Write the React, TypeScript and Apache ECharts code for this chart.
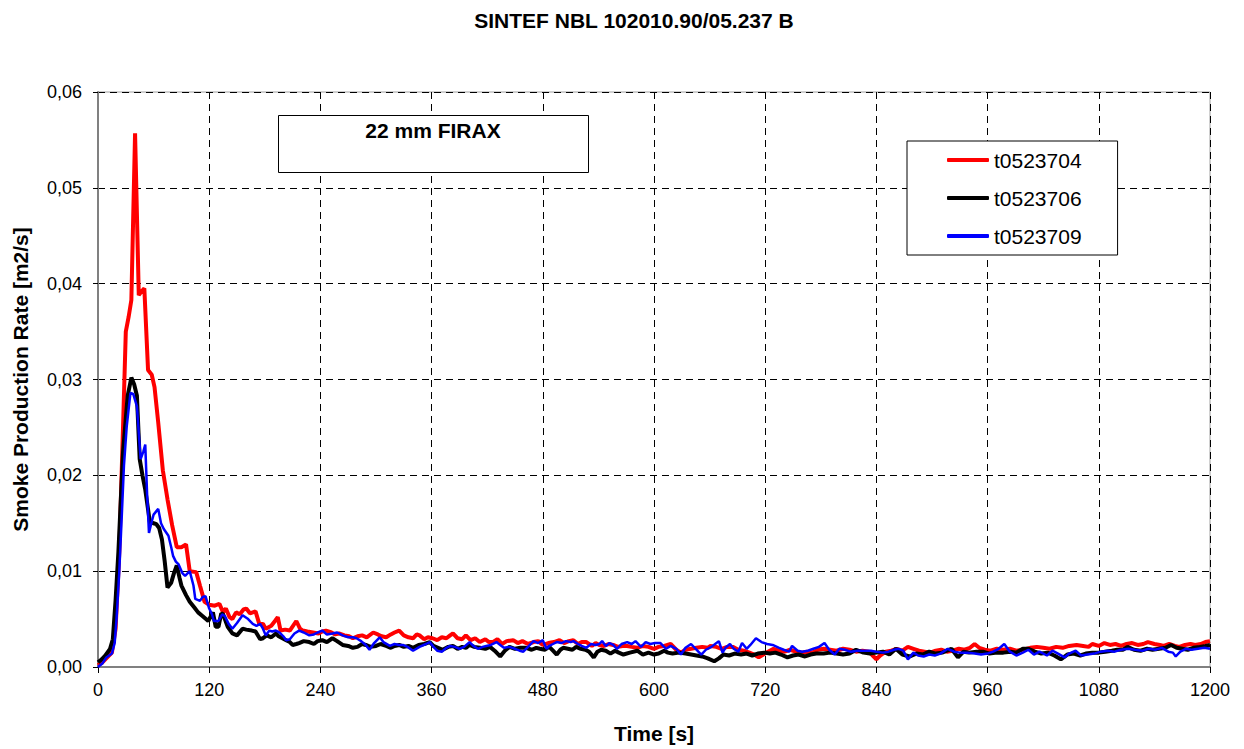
import React, { useEffect, useRef } from "react";
import * as echarts from "echarts";

const chartTitle = "SINTEF NBL 102010.90/05.237 B";
const boxLabel = "22 mm FIRAX";
const xAxisName = "Time [s]";
const yAxisName = "Smoke Production Rate [m2/s]";
const seriesNames = ["t0523704", "t0523706", "t0523709"];

const redTime = [0,5,10,15,19,23,27,30,33,36,40,44,47,50,54,58,61,65,70,75,80,85,90,95,99,106,110,115,120,126,131,135,138,142,145,149,153,157,160,164,167,170,174,178,181,187,191,194,197,202,207,214,218,221,226,232,238,242,246,252,256,260,266,271,275,280,285,290,297,302,306,311,316,320,325,330,335,340,344,347,352,356,361,366,371,376,380,383,388,393,397,402,407,412,418,422,426,431,436,441,448,453,458,464,470,475,480,486,492,498,503,508,513,518,522,527,533,537,541,546,551,556,561,566,571,576,582,588,594,600,605,611,618,624,629,634,640,646,652,658,661,667,673,679,685,691,697,703,708,713,718,723,729,735,741,747,753,759,765,771,777,783,790,797,804,811,818,825,832,836,840,844,850,856,862,868,874,880,886,892,898,904,910,916,922,929,935,941,946,951,957,963,970,977,984,991,998,1006,1013,1020,1027,1034,1041,1048,1056,1063,1069,1073,1080,1086,1092,1098,1104,1110,1116,1122,1128,1133,1140,1146,1150,1156,1162,1167,1173,1179,1184,1190,1195,1200];
const redValue = [0.0002,0.0005,0.001,0.0015,0.004,0.012,0.025,0.035,0.0365,0.0383,0.0557,0.0388,0.0392,0.0395,0.031,0.0305,0.0292,0.0255,0.0205,0.0175,0.0148,0.0125,0.0125,0.0128,0.01,0.0099,0.0085,0.0068,0.0065,0.0064,0.0066,0.0057,0.0061,0.0052,0.005,0.0057,0.0055,0.006,0.0061,0.0056,0.0057,0.0058,0.0045,0.0045,0.004,0.0043,0.0048,0.0052,0.0038,0.0039,0.0038,0.0048,0.004,0.0038,0.0037,0.0036,0.0035,0.0037,0.0038,0.0036,0.0034,0.0035,0.0033,0.0032,0.003,0.0032,0.0033,0.0031,0.0036,0.0034,0.0032,0.0031,0.0034,0.0036,0.0038,0.0033,0.0031,0.003,0.0034,0.0033,0.0029,0.0031,0.003,0.0028,0.0031,0.003,0.0033,0.0035,0.003,0.0029,0.0033,0.0028,0.003,0.0026,0.0029,0.0026,0.0026,0.0029,0.0024,0.0027,0.0028,0.0025,0.0027,0.0024,0.0026,0.0027,0.0023,0.0025,0.0026,0.0028,0.0025,0.0027,0.0028,0.0024,0.0026,0.0026,0.0022,0.0025,0.0023,0.0022,0.0024,0.0023,0.0021,0.0022,0.0022,0.0021,0.002,0.0022,0.0021,0.0019,0.0021,0.0022,0.0024,0.0018,0.0015,0.0018,0.0019,0.002,0.0021,0.002,0.0022,0.0021,0.0019,0.0021,0.0021,0.0018,0.0017,0.0015,0.0013,0.001,0.0013,0.0016,0.0019,0.0017,0.0016,0.0018,0.0016,0.0015,0.0016,0.0015,0.0018,0.0019,0.0018,0.0017,0.0019,0.0018,0.0016,0.0017,0.0016,0.0012,0.0008,0.0012,0.0016,0.0017,0.0019,0.0017,0.0021,0.0019,0.0017,0.0016,0.0015,0.0017,0.0018,0.0016,0.0017,0.0019,0.0018,0.002,0.0024,0.002,0.0018,0.0017,0.0019,0.0018,0.0019,0.0017,0.0018,0.002,0.0021,0.002,0.0019,0.0021,0.002,0.0022,0.0023,0.0022,0.0021,0.0024,0.0022,0.0025,0.0023,0.0024,0.0022,0.0024,0.0025,0.0023,0.0024,0.0026,0.0024,0.0023,0.0022,0.0024,0.0022,0.0021,0.0023,0.0024,0.0023,0.0024,0.0026,0.0027];

const blackTime = [0,4,8,13,16,19,22,27,32,36,39,42,45,48,51,56,60,63,66,69,72,75,79,82,85,88,90,95,99,104,108,113,119,124,127,130,133,135,140,145,150,156,160,166,170,175,178,182,187,192,195,199,203,207,210,214,217,222,228,233,237,242,247,253,258,264,270,275,280,285,289,294,300,305,311,316,320,325,330,335,340,346,352,358,362,367,372,378,383,388,393,397,401,406,412,418,423,428,434,439,444,450,456,462,468,473,477,482,487,491,495,499,502,507,512,516,521,526,530,535,539,543,548,553,558,562,567,574,582,588,594,600,605,611,615,620,627,634,640,646,652,658,665,670,675,681,687,694,700,706,712,719,725,731,737,744,750,756,763,769,775,783,790,797,804,811,818,826,833,840,847,854,861,868,876,883,890,897,904,911,916,921,928,934,940,948,955,962,970,977,985,991,998,1004,1011,1018,1025,1032,1039,1046,1053,1060,1066,1073,1080,1087,1094,1100,1106,1111,1118,1125,1132,1138,1145,1152,1158,1164,1170,1176,1182,1189,1195,1200];
const blackValue = [0.0005,0.0008,0.0012,0.0019,0.0029,0.007,0.012,0.0224,0.0283,0.0302,0.0295,0.0283,0.0217,0.02,0.0185,0.0151,0.015,0.0149,0.0145,0.0133,0.011,0.0083,0.0088,0.0098,0.0106,0.0093,0.0085,0.0075,0.0068,0.0062,0.0057,0.0053,0.0048,0.0057,0.0042,0.0042,0.0056,0.0055,0.0042,0.0035,0.0033,0.004,0.0039,0.0038,0.0037,0.0029,0.003,0.0033,0.0031,0.0035,0.0032,0.003,0.0028,0.0026,0.0023,0.0024,0.0025,0.0027,0.0026,0.0024,0.0027,0.0028,0.0026,0.003,0.0027,0.0023,0.0022,0.002,0.0021,0.0024,0.0023,0.0021,0.0022,0.0024,0.0022,0.002,0.0022,0.0023,0.0021,0.0022,0.002,0.0023,0.0024,0.0026,0.0022,0.002,0.0018,0.0021,0.0022,0.0019,0.0021,0.002,0.0023,0.0021,0.002,0.0019,0.0021,0.0017,0.0011,0.0017,0.0021,0.0019,0.002,0.002,0.0018,0.002,0.0019,0.0018,0.0021,0.0017,0.0013,0.0018,0.002,0.0019,0.0018,0.0021,0.0019,0.0018,0.0016,0.001,0.0016,0.0018,0.0017,0.0014,0.0017,0.0015,0.0013,0.0015,0.0017,0.0013,0.0015,0.0013,0.0014,0.0017,0.0015,0.0014,0.0015,0.0014,0.0013,0.0012,0.0011,0.0009,0.0006,0.0009,0.0013,0.0012,0.0014,0.0013,0.0014,0.0012,0.0014,0.0015,0.0014,0.0015,0.0013,0.001,0.0012,0.0013,0.0011,0.0013,0.0014,0.0014,0.0015,0.0014,0.0013,0.0014,0.0018,0.0015,0.0014,0.0015,0.0016,0.0013,0.0019,0.0013,0.0011,0.0014,0.0013,0.0016,0.0014,0.0015,0.0017,0.0019,0.001,0.0016,0.0015,0.0016,0.0016,0.0014,0.0015,0.0015,0.0016,0.0015,0.0019,0.0019,0.0016,0.0014,0.0015,0.0012,0.0008,0.0013,0.0014,0.0012,0.0014,0.0015,0.0015,0.0016,0.0017,0.0018,0.0018,0.0021,0.0018,0.0017,0.0019,0.0018,0.0019,0.002,0.0023,0.002,0.0019,0.0018,0.002,0.0021,0.0022,0.0023];

const blueTime = [0,5,9,15,18,20,23,25.5,28,31,35,38,42,46,49,51,53,55,58,60,65,68,71,76,79,81,84,87,91,94,99,103,105,110,113,116,120,123,125,130,134,137,141,145,150,156,162,167,171,175,178,181,185,188,192,196,200,203,207,212,217,222,228,233,237,242,247,253,258,264,270,275,279,284,289,293,298,304,308,315,320,325,329,334,340,347,354,358,362,366,371,376,380,385,390,395,401,405,410,415,419,424,430,434,438,444,450,455,459,464,470,475,480,484,487,491,495,500,505,510,513,518,522,527,532,537,541,544,548,552,556,560,565,571,576,580,586,591,596,601,607,613,618,624,629,634,640,645,651,656,662,666,670,674,677,682,686,691,695,700,704,710,716,722,728,735,740,746,749,755,760,766,772,778,784,789,795,800,806,812,820,827,834,840,847,853,859,864,869,874,880,885,891,897,903,909,917,924,930,938,946,953,960,966,972,978,984,991,998,1004,1010,1016,1024,1030,1036,1043,1048,1055,1061,1068,1075,1082,1090,1097,1104,1112,1119,1127,1134,1141,1148,1155,1160,1163,1168,1174,1180,1187,1194,1200];
const blueValue = [0,0.0004,0.001,0.0014,0.0025,0.005,0.01,0.0154,0.021,0.0251,0.0286,0.0285,0.0272,0.0217,0.0225,0.0232,0.018,0.014,0.0152,0.0159,0.0165,0.015,0.0144,0.0137,0.0125,0.0116,0.011,0.0107,0.0098,0.0095,0.01,0.0085,0.0071,0.0069,0.0073,0.0074,0.0061,0.0055,0.0048,0.0048,0.0055,0.0053,0.0045,0.004,0.0046,0.0054,0.005,0.0045,0.0043,0.0045,0.004,0.0033,0.0038,0.0037,0.0038,0.0036,0.0032,0.0028,0.0029,0.0035,0.0038,0.0036,0.0033,0.0034,0.0036,0.0038,0.0034,0.0035,0.0036,0.0033,0.0031,0.0031,0.003,0.0027,0.0023,0.0018,0.0025,0.0031,0.0026,0.0022,0.0024,0.0023,0.0023,0.0021,0.0017,0.0021,0.0024,0.0026,0.0021,0.0017,0.0016,0.002,0.0022,0.0021,0.0019,0.0021,0.0026,0.0022,0.0019,0.0021,0.0022,0.0023,0.0026,0.0023,0.002,0.0021,0.0019,0.0017,0.0016,0.0021,0.0027,0.0025,0.0028,0.0019,0.0022,0.0024,0.0026,0.0025,0.0027,0.0026,0.0027,0.0024,0.0022,0.002,0.0024,0.0023,0.0024,0.0027,0.0022,0.0025,0.0023,0.0019,0.0024,0.0026,0.0024,0.0027,0.0021,0.0026,0.0024,0.0025,0.0025,0.0019,0.0022,0.0019,0.0013,0.002,0.0024,0.0019,0.0013,0.0018,0.0021,0.0024,0.0027,0.0015,0.002,0.0024,0.0019,0.0016,0.0025,0.0019,0.0023,0.003,0.0026,0.0024,0.0023,0.002,0.0018,0.0016,0.0022,0.0017,0.0016,0.0017,0.0019,0.0021,0.0025,0.0018,0.0013,0.0019,0.0018,0.0016,0.0017,0.0017,0.0017,0.0016,0.0015,0.0016,0.0018,0.0019,0.0017,0.0008,0.0015,0.0012,0.0011,0.0013,0.0012,0.0014,0.0019,0.0016,0.0015,0.0015,0.0014,0.0013,0.0014,0.0016,0.0019,0.0024,0.0016,0.0012,0.0015,0.0018,0.0013,0.0016,0.0012,0.0017,0.0014,0.001,0.0014,0.0017,0.0012,0.0013,0.0014,0.0016,0.0017,0.0016,0.0018,0.0019,0.0018,0.0017,0.0019,0.0018,0.002,0.0016,0.0015,0.0011,0.0016,0.0019,0.0018,0.0019,0.002,0.0019];

const seriesColors = ["#ff0000", "#000000", "#0000ff"];
const seriesWidths = [4, 4, 2.5];

const FONT = "'Liberation Sans', Arial, sans-serif";

function zip(t: number[], v: number[]) {
  return t.map((x, i) => [x, v[i]]);
}

export default function App() {
  const ref = useRef<HTMLDivElement>(null);
  useEffect(() => {
    if (!ref.current) return;
    const chart = echarts.init(ref.current, null, { renderer: "svg" });
    const datasets = [zip(redTime, redValue), zip(blackTime, blackValue), zip(blueTime, blueValue)];
    chart.setOption({
      animation: false,
      backgroundColor: "#ffffff",
      textStyle: { fontFamily: FONT },
      title: {
        text: chartTitle,
        left: 629,
        textAlign: "center",
        top: 5,
        textStyle: { fontFamily: FONT, fontSize: 21, fontWeight: "bold", color: "#000" },
      },
      grid: {
        left: 98,
        right: 34,
        top: 92,
        bottom: 81,
        show: true,
        borderColor: "#a0a0a0",
        borderWidth: 1,
        backgroundColor: "transparent",
      },
      legend: {
        orient: "vertical",
        left: 907,
        top: 141,
        padding: [8, 36, 8, 40],
        itemGap: 16,
        itemWidth: 42,
        itemHeight: 4,
        icon: "roundRect",
        borderColor: "#000",
        borderWidth: 1,
        backgroundColor: "#fff",
        data: seriesNames,
        textStyle: { fontFamily: FONT, fontSize: 21, color: "#000", lineHeight: 22 },
      },
      xAxis: {
        type: "value",
        min: 0,
        max: 1200,
        interval: 120,
        name: xAxisName,
        nameLocation: "middle",
        nameGap: 56,
        nameTextStyle: { fontFamily: FONT, fontSize: 21, fontWeight: "bold", color: "#000" },
        axisLine: { show: true, onZero: false, lineStyle: { color: "#808080", width: 2 } },
        axisTick: { show: true, length: 6, inside: false, lineStyle: { color: "#000" } },
        axisLabel: {
          fontFamily: FONT,
          fontSize: 18,
          color: "#000",
          margin: 14,
          formatter: (v: number) => String(v),
        },
        splitLine: { show: true, lineStyle: { color: "#000", type: [7, 5], width: 1 } },
      },
      yAxis: {
        type: "value",
        min: 0,
        max: 0.06,
        interval: 0.01,
        name: yAxisName,
        nameLocation: "middle",
        nameGap: 67,
        nameTextStyle: { fontFamily: FONT, fontSize: 21, fontWeight: "bold", color: "#000" },
        axisLine: { show: true, onZero: false, lineStyle: { color: "#808080", width: 2 } },
        axisTick: { show: true, length: 5, inside: false, lineStyle: { color: "#000" } },
        axisLabel: {
          fontFamily: FONT,
          fontSize: 18,
          color: "#000",
          margin: 16,
          formatter: (v: number) => v.toFixed(2).replace(".", ","),
        },
        splitLine: { show: true, lineStyle: { color: "#000", type: [7, 5], width: 1 } },
      },
      graphic: [
        {
          type: "rect",
          left: 278,
          top: 115,
          shape: { width: 310, height: 57 },
          style: { fill: "#fff", stroke: "#000", lineWidth: 1 },
          z: 10,
        },
        {
          type: "text",
          x: 433,
          y: 120,
          style: {
            text: boxLabel,
            textAlign: "center",
            textVerticalAlign: "top",
            fontFamily: FONT,
            fontSize: 21,
            fontWeight: "bold",
            fill: "#000",
          },
          z: 11,
        },
      ],
      series: seriesNames.map((name, i) => ({
        name,
        type: "line",
        data: datasets[i],
        symbol: "none",
        showSymbol: false,
        color: seriesColors[i],
        lineStyle: { color: seriesColors[i], width: seriesWidths[i] },
        z: 2 + i,
      })),
    });
    return () => chart.dispose();
  }, []);
  return (
    <div
      ref={ref}
      style={{ position: "fixed", left: 0, top: 0, width: 1244, height: 749 }}
    />
  );
}
